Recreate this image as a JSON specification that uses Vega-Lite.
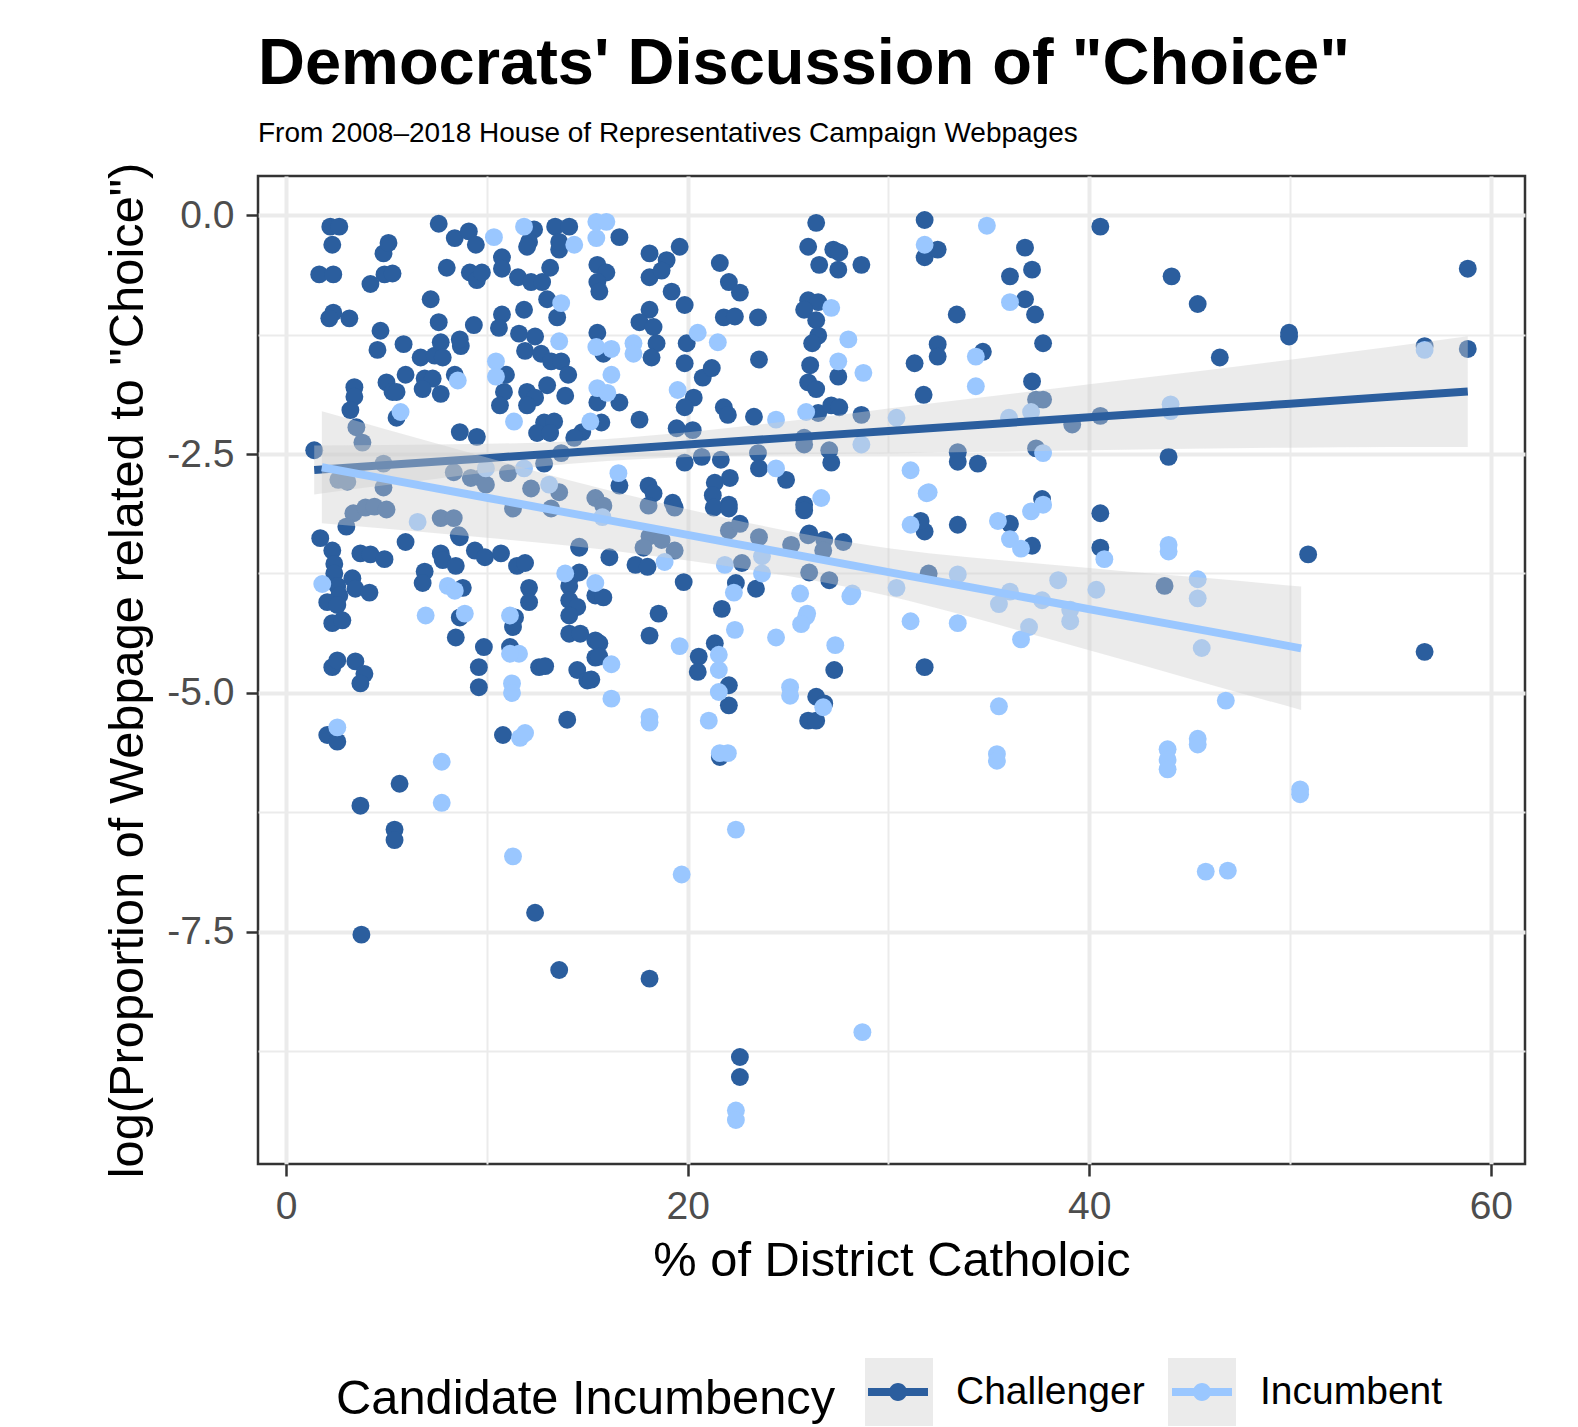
{
"$schema": "https://vega.github.io/schema/vega-lite/v6.json",
"width": 1267, "height": 988,
"autosize": {"type": "none"},
"padding": {"left": 258, "top": 176, "right": 53, "bottom": 263},
"title": {"text": "Democrats' Discussion of \"Choice\"", "subtitle": "From 2008–2018 House of Representatives Campaign Webpages", "anchor": "start", "frame": "group", "fontSize": 65, "fontWeight": "bold", "color": "black", "subtitleFontSize": 28, "subtitleColor": "black", "subtitlePadding": 22, "offset": 13, "font": "Liberation Sans", "subtitleFont": "Liberation Sans"},
"config": {
 "font": "Liberation Sans",
 "view": {"stroke": "#333333", "strokeWidth": 2.5},
 "axis": {"domain": false, "labelFontSize": 39, "labelColor": "#4D4D4D", "tickColor": "#333333", "tickWidth": 2.5, "tickSize": 12, "gridColor": "#EBEBEB", "titleFontSize": 48.8, "titleFontWeight": "normal", "titleColor": "black", "labelPadding": 12, "labelFlush": false, "labelOverlap": false},
 "axisX": {"titlePadding": 10, "labelPadding": 11},
 "axisY": {"titlePadding": 14},
 "legend": {"orient": "none", "legendY": 1182, "direction": "horizontal", "titleOrient": "left", "titleFontSize": 48.8, "titleFontWeight": "normal", "titleColor": "black", "titlePadding": 28, "titleLimit": 0, "labelLimit": 0, "labelFontSize": 39, "labelColor": "black", "symbolSize": 4624, "symbolStrokeWidth": 0}
},
"datasets": {
 "chal": [
{"x":2.2,"y":-0.12},{"x":2.65,"y":-0.12},{"x":2.3,"y":-0.31},{"x":1.65,"y":-0.62},{"x":2.35,"y":-0.62},{"x":4.2,"y":-0.72},{"x":4.85,"y":-0.4},{"x":5.1,"y":-0.29},{"x":4.9,"y":-0.62},{"x":5.3,"y":-0.61},{"x":7.6,"y":-0.09},{"x":8.4,"y":-0.24},{"x":9.1,"y":-0.17},{"x":9.45,"y":-0.31},{"x":8.0,"y":-0.55},{"x":9.15,"y":-0.6},{"x":9.5,"y":-0.68},{"x":9.75,"y":-0.6},{"x":10.75,"y":-0.44},{"x":10.75,"y":-0.56},{"x":11.55,"y":-0.65},{"x":12.2,"y":-0.7},{"x":12.75,"y":-0.7},{"x":13.15,"y":-0.55},{"x":12.35,"y":-0.15},{"x":12.1,"y":-0.28},{"x":12.0,"y":-0.33},{"x":13.4,"y":-0.12},{"x":14.1,"y":-0.12},{"x":13.6,"y":-0.36},{"x":13.6,"y":-0.28},
{"x":2.35,"y":-1.02},{"x":3.15,"y":-1.08},{"x":2.15,"y":-1.08},{"x":7.2,"y":-0.88},{"x":4.7,"y":-1.21},{"x":4.55,"y":-1.41},{"x":5.85,"y":-1.35},{"x":6.7,"y":-1.49},{"x":7.4,"y":-1.47},{"x":7.7,"y":-1.33},{"x":7.8,"y":-1.49},{"x":8.7,"y":-1.37},{"x":8.65,"y":-1.3},{"x":7.6,"y":-1.12},{"x":9.35,"y":-1.15},{"x":5.95,"y":-1.67},{"x":5.0,"y":-1.75},{"x":5.3,"y":-1.85},{"x":5.5,"y":-1.85},{"x":6.9,"y":-1.71},{"x":7.3,"y":-1.71},{"x":6.8,"y":-1.82},{"x":7.7,"y":-1.87},{"x":8.4,"y":-1.67},{"x":3.4,"y":-1.8},{"x":3.4,"y":-1.9},{"x":3.2,"y":-2.04},{"x":5.5,"y":-2.12},{"x":10.75,"y":-1.04},{"x":10.6,"y":-1.18},{"x":11.85,"y":-0.99},{"x":13.0,"y":-0.88},{"x":11.6,"y":-1.24},{"x":12.4,"y":-1.27},{"x":11.9,"y":-1.42},{"x":12.7,"y":-1.45},{"x":13.2,"y":-1.53},{"x":13.7,"y":-1.53},{"x":14.05,"y":-1.67},{"x":13.5,"y":-1.07},{"x":10.95,"y":-1.67},{"x":10.85,"y":-1.85},{"x":10.65,"y":-1.99},{"x":12.0,"y":-1.85},{"x":12.4,"y":-1.91},{"x":12.0,"y":-1.99},{"x":13.0,"y":-1.78},{"x":13.9,"y":-1.89},{"x":12.85,"y":-2.17},{"x":13.35,"y":-2.16},{"x":12.5,"y":-2.28},{"x":13.15,"y":-2.28},{"x":14.75,"y":-2.27},{"x":14.35,"y":-2.33},{"x":8.65,"y":-2.27},{"x":9.5,"y":-2.32},
{"x":3.5,"y":-2.22},{"x":3.8,"y":-2.38},{"x":1.4,"y":-2.46},{"x":2.6,"y":-2.77},{"x":3.05,"y":-2.79},{"x":4.85,"y":-2.6},{"x":4.85,"y":-2.85},{"x":3.35,"y":-3.12},{"x":3.95,"y":-3.06},{"x":4.4,"y":-3.05},{"x":5.0,"y":-3.08},{"x":3.0,"y":-3.26},{"x":7.7,"y":-3.17},{"x":8.35,"y":-3.17},{"x":8.6,"y":-3.35},{"x":8.35,"y":-2.69},{"x":9.2,"y":-2.75},{"x":9.7,"y":-2.75},{"x":9.95,"y":-2.82},{"x":11.05,"y":-2.7},{"x":12.2,"y":-2.86},{"x":13.6,"y":-2.9},{"x":11.3,"y":-3.07},{"x":13.2,"y":-3.07},{"x":12.85,"y":-2.6},{"x":13.7,"y":-2.49},
{"x":1.7,"y":-3.38},{"x":2.3,"y":-3.51},{"x":2.4,"y":-3.65},{"x":2.4,"y":-3.75},{"x":2.55,"y":-3.88},{"x":2.65,"y":-3.98},{"x":2.05,"y":-4.05},{"x":2.55,"y":-4.08},{"x":2.3,"y":-4.27},{"x":2.8,"y":-4.24},{"x":3.3,"y":-3.8},{"x":3.45,"y":-3.91},{"x":4.15,"y":-3.95},{"x":3.7,"y":-3.54},{"x":4.2,"y":-3.55},{"x":4.9,"y":-3.6},{"x":5.95,"y":-3.42},{"x":6.9,"y":-3.73},{"x":6.8,"y":-3.85},{"x":7.7,"y":-3.54},{"x":7.8,"y":-3.61},{"x":8.45,"y":-3.67},{"x":8.8,"y":-3.9},{"x":8.65,"y":-3.37},{"x":9.4,"y":-3.51},{"x":9.9,"y":-3.58},{"x":10.7,"y":-3.54},{"x":11.5,"y":-3.67},{"x":11.9,"y":-3.64},{"x":8.65,"y":-4.21},{"x":8.45,"y":-4.42},{"x":9.85,"y":-4.52},{"x":9.6,"y":-4.73},{"x":9.6,"y":-4.94},{"x":12.1,"y":-3.9},{"x":12.1,"y":-4.05},{"x":11.4,"y":-4.21},{"x":11.3,"y":-4.31},{"x":11.15,"y":-4.52},{"x":12.6,"y":-4.73},{"x":12.9,"y":-4.72},{"x":14.15,"y":-3.79},{"x":14.6,"y":-3.74},{"x":14.1,"y":-3.88},{"x":14.1,"y":-4.03},{"x":14.5,"y":-4.1},{"x":14.1,"y":-4.19},{"x":14.1,"y":-4.38},{"x":14.65,"y":-4.38},{"x":14.6,"y":-3.48},{"x":15.4,"y":-3.98},{"x":15.4,"y":-4.45},{"x":15.4,"y":-4.63},{"x":14.5,"y":-4.76},{"x":15.0,"y":-4.87},{"x":2.05,"y":-5.44},{"x":2.55,"y":-5.51},{"x":10.8,"y":-5.44},{"x":14.0,"y":-5.28},{"x":5.65,"y":-5.95},{"x":3.7,"y":-6.18},{"x":5.4,"y":-6.43},{"x":5.4,"y":-6.54},{"x":2.3,"y":-4.73},{"x":2.55,"y":-4.66},{"x":3.45,"y":-4.67},{"x":3.9,"y":-4.8},{"x":3.7,"y":-4.9},
{"x":12.4,"y":-7.3},{"x":3.75,"y":-7.53},{"x":13.6,"y":-7.9},{"x":18.1,"y":-7.99},{"x":22.6,"y":-8.81},{"x":22.6,"y":-9.02},
{"x":16.6,"y":-0.23},{"x":15.5,"y":-0.52},{"x":15.95,"y":-0.6},{"x":15.5,"y":-0.7},{"x":15.6,"y":-0.8},{"x":18.1,"y":-0.4},{"x":18.95,"y":-0.47},{"x":18.1,"y":-0.65},{"x":18.7,"y":-0.58},{"x":19.6,"y":-0.33},{"x":19.2,"y":-0.8},{"x":19.85,"y":-0.94},{"x":18.1,"y":-0.99},{"x":17.6,"y":-1.12},{"x":18.3,"y":-1.17},{"x":18.45,"y":-1.34},{"x":18.2,"y":-1.49},{"x":15.5,"y":-1.23},{"x":15.8,"y":-1.45},{"x":16.6,"y":-1.96},{"x":15.5,"y":-1.96},{"x":15.7,"y":-2.17},{"x":17.6,"y":-2.14},{"x":19.95,"y":-1.34},{"x":19.85,"y":-1.55},{"x":20.75,"y":-1.7},{"x":21.2,"y":-1.6},{"x":20.3,"y":-1.91},{"x":19.85,"y":-2.01},{"x":19.45,"y":-2.23},{"x":20.25,"y":-2.25},{"x":21.6,"y":-0.5},{"x":22.05,"y":-0.7},{"x":22.6,"y":-0.81},{"x":21.8,"y":-1.07},{"x":22.35,"y":-1.06},{"x":23.5,"y":-1.07},{"x":23.55,"y":-1.51},{"x":21.8,"y":-2.01},{"x":22.0,"y":-2.09},{"x":23.3,"y":-2.11},{"x":26.4,"y":-0.08},{"x":26.0,"y":-0.33},{"x":27.25,"y":-0.36},{"x":27.55,"y":-0.39},{"x":26.55,"y":-0.52},{"x":27.5,"y":-0.57},{"x":28.65,"y":-0.52},{"x":26.0,"y":-0.89},{"x":26.5,"y":-0.91},{"x":25.8,"y":-0.99},{"x":26.4,"y":-1.1},{"x":26.5,"y":-1.26},{"x":26.2,"y":-1.34},{"x":26.1,"y":-1.57},{"x":26.0,"y":-1.75},{"x":26.4,"y":-1.82},{"x":27.5,"y":-1.69},{"x":26.5,"y":-2.07},{"x":27.15,"y":-1.99},{"x":27.55,"y":-2.01},{"x":28.65,"y":-2.09},{"x":31.8,"y":-0.05},{"x":31.8,"y":-0.44},{"x":32.45,"y":-0.36},{"x":31.3,"y":-1.55},{"x":31.75,"y":-1.88},{"x":25.8,"y":-2.33},{"x":25.8,"y":-2.4},{"x":27.05,"y":-2.46},{"x":27.15,"y":-2.59},{"x":18.05,"y":-2.83},{"x":18.3,"y":-2.91},{"x":18.05,"y":-3.04},{"x":16.6,"y":-2.83},{"x":19.85,"y":-2.59},{"x":20.7,"y":-2.53},{"x":21.65,"y":-2.56},{"x":22.1,"y":-2.75},{"x":21.35,"y":-2.8},{"x":21.25,"y":-2.93},{"x":23.5,"y":-2.49},{"x":23.55,"y":-2.65},{"x":24.9,"y":-2.77},{"x":19.25,"y":-3.01},{"x":22.05,"y":-3.03},{"x":25.8,"y":-3.03},
{"x":14.6,"y":-3.47},{"x":16.1,"y":-3.58},{"x":15.4,"y":-2.96},{"x":15.8,"y":-3.04},{"x":19.35,"y":-3.06},{"x":18.1,"y":-3.36},{"x":18.7,"y":-3.4},{"x":17.8,"y":-3.48},{"x":19.35,"y":-3.51},{"x":17.4,"y":-3.66},{"x":18.0,"y":-3.68},{"x":19.8,"y":-3.84},{"x":21.3,"y":-3.06},{"x":22.05,"y":-3.07},{"x":22.05,"y":-3.3},{"x":22.6,"y":-3.23},{"x":22.7,"y":-3.64},{"x":23.55,"y":-3.37},{"x":22.4,"y":-3.85},{"x":23.4,"y":-3.91},{"x":21.7,"y":-4.12},{"x":25.8,"y":-3.09},{"x":25.15,"y":-3.45},{"x":26.0,"y":-3.35},{"x":26.8,"y":-3.4},{"x":27.75,"y":-3.42},{"x":26.75,"y":-3.51},{"x":26.05,"y":-3.74},{"x":27.05,"y":-3.82},{"x":15.8,"y":-4.0},{"x":18.55,"y":-4.17},{"x":18.1,"y":-4.4},{"x":15.6,"y":-4.48},{"x":15.6,"y":-4.62},{"x":15.2,"y":-4.86},{"x":21.35,"y":-4.48},{"x":20.55,"y":-4.62},{"x":20.5,"y":-4.78},{"x":22.05,"y":-4.92},{"x":22.05,"y":-5.13},{"x":21.6,"y":-5.67},{"x":26.4,"y":-5.04},{"x":26.8,"y":-5.11},{"x":26.0,"y":-5.29},{"x":26.4,"y":-5.29},{"x":27.3,"y":-4.76},{"x":31.8,"y":-3.31},{"x":31.8,"y":-4.73},{"x":26.05,"y":-3.33},
{"x":40.55,"y":-0.12},{"x":36.8,"y":-0.34},{"x":36.05,"y":-0.64},{"x":37.15,"y":-0.57},{"x":36.8,"y":-0.88},{"x":37.3,"y":-1.04},{"x":33.4,"y":-1.04},{"x":44.1,"y":-0.64},{"x":45.4,"y":-0.93},{"x":58.85,"y":-0.56},{"x":49.95,"y":-1.23},{"x":49.95,"y":-1.27},{"x":46.5,"y":-1.49},{"x":56.7,"y":-1.37},{"x":58.85,"y":-1.4},{"x":32.45,"y":-1.35},{"x":32.45,"y":-1.48},{"x":34.7,"y":-1.43},{"x":37.7,"y":-1.34},{"x":37.15,"y":-1.74},{"x":37.35,"y":-1.93},{"x":37.7,"y":-1.93},{"x":39.15,"y":-2.19},{"x":40.55,"y":-2.1},{"x":33.45,"y":-2.48},{"x":33.45,"y":-2.58},{"x":34.45,"y":-2.6},{"x":37.35,"y":-2.44},{"x":43.95,"y":-2.53},{"x":31.6,"y":-3.2},{"x":33.45,"y":-3.24},{"x":36.05,"y":-3.23},{"x":37.65,"y":-2.97},{"x":37.15,"y":-3.46},{"x":40.55,"y":-3.12},{"x":40.55,"y":-3.48},{"x":32.0,"y":-3.75},{"x":43.75,"y":-3.88},{"x":56.7,"y":-4.57},{"x":50.9,"y":-3.55}
 ],
 "inc": [
{"x":10.35,"y":-0.23},{"x":11.85,"y":-0.12},{"x":14.35,"y":-0.31},{"x":15.45,"y":-0.07},{"x":15.95,"y":-0.07},{"x":15.45,"y":-0.24},{"x":8.55,"y":-1.73},{"x":5.7,"y":-2.06},{"x":13.7,"y":-0.92},{"x":13.6,"y":-1.32},{"x":10.45,"y":-1.53},{"x":10.45,"y":-1.69},{"x":11.35,"y":-2.16},{"x":15.45,"y":-1.38},{"x":16.2,"y":-1.4},{"x":15.5,"y":-1.81},{"x":15.15,"y":-2.16},
{"x":9.95,"y":-2.65},{"x":11.85,"y":-2.65},{"x":13.1,"y":-2.82},{"x":6.55,"y":-3.21},
{"x":1.8,"y":-3.86},{"x":8.05,"y":-3.88},{"x":8.4,"y":-3.93},{"x":6.95,"y":-4.19},{"x":8.9,"y":-4.17},{"x":11.15,"y":-4.19},{"x":11.6,"y":-4.59},{"x":11.15,"y":-4.59},{"x":11.25,"y":-4.9},{"x":11.25,"y":-5.0},{"x":13.9,"y":-3.75},{"x":15.4,"y":-3.85},{"x":2.55,"y":-5.36},{"x":11.65,"y":-5.47},{"x":11.9,"y":-5.42},{"x":7.75,"y":-5.72},{"x":7.75,"y":-6.15},{"x":11.3,"y":-6.71},{"x":19.7,"y":-6.9},{"x":22.4,"y":-6.43},{"x":28.7,"y":-8.55},{"x":22.4,"y":-9.37},{"x":22.4,"y":-9.47},{"x":45.8,"y":-6.87},{"x":46.9,"y":-6.86},
{"x":16.2,"y":-1.67},{"x":16.0,"y":-1.86},{"x":17.3,"y":-1.34},{"x":17.3,"y":-1.45},{"x":20.5,"y":-1.23},{"x":21.5,"y":-1.33},{"x":19.5,"y":-1.83},{"x":24.4,"y":-2.14},{"x":27.15,"y":-0.97},{"x":28.0,"y":-1.3},{"x":27.5,"y":-1.53},{"x":28.75,"y":-1.65},{"x":25.9,"y":-2.06},{"x":30.4,"y":-2.12},{"x":31.8,"y":-0.31},{"x":28.65,"y":-2.4},{"x":16.55,"y":-2.7},{"x":24.4,"y":-2.65},{"x":26.65,"y":-2.96},{"x":31.1,"y":-2.67},{"x":31.9,"y":-2.91},
{"x":15.75,"y":-3.16},{"x":18.85,"y":-3.63},{"x":21.85,"y":-3.66},{"x":23.7,"y":-3.57},{"x":23.7,"y":-3.75},{"x":22.3,"y":-3.95},{"x":25.6,"y":-3.96},{"x":28.2,"y":-3.96},{"x":25.95,"y":-4.17},{"x":30.4,"y":-3.9},{"x":19.6,"y":-4.51},{"x":16.2,"y":-4.7},{"x":16.2,"y":-5.06},{"x":18.1,"y":-5.25},{"x":18.1,"y":-5.31},{"x":22.35,"y":-4.34},{"x":24.4,"y":-4.42},{"x":21.55,"y":-4.6},{"x":21.55,"y":-4.76},{"x":21.55,"y":-4.99},{"x":21.05,"y":-5.29},{"x":21.6,"y":-5.63},{"x":22.0,"y":-5.63},{"x":25.1,"y":-4.94},{"x":25.1,"y":-5.03},{"x":26.75,"y":-5.15},{"x":27.35,"y":-4.5},{"x":25.9,"y":-4.2},{"x":25.65,"y":-4.28},{"x":28.1,"y":-3.99},{"x":31.1,"y":-3.24},{"x":31.1,"y":-4.25},
{"x":34.9,"y":-0.11},{"x":36.05,"y":-0.91},{"x":56.7,"y":-1.41},{"x":34.35,"y":-1.48},{"x":34.35,"y":-1.79},{"x":37.1,"y":-2.06},{"x":36.0,"y":-2.12},{"x":44.05,"y":-2.05},{"x":44.05,"y":-1.98},{"x":37.7,"y":-2.49},{"x":32.0,"y":-2.9},{"x":35.45,"y":-3.2},{"x":36.05,"y":-3.39},{"x":36.6,"y":-3.49},{"x":37.1,"y":-3.1},{"x":37.7,"y":-3.03},{"x":40.75,"y":-3.6},{"x":43.95,"y":-3.45},{"x":43.95,"y":-3.52},{"x":33.45,"y":-3.76},{"x":36.05,"y":-3.94},{"x":35.5,"y":-4.07},{"x":37.65,"y":-4.03},{"x":37.0,"y":-4.31},{"x":36.6,"y":-4.44},{"x":38.45,"y":-3.82},{"x":39.05,"y":-4.13},{"x":39.05,"y":-4.25},{"x":40.35,"y":-3.92},{"x":33.45,"y":-4.27},{"x":45.4,"y":-3.81},{"x":45.4,"y":-4.01},{"x":45.6,"y":-4.53},{"x":35.5,"y":-5.14},{"x":46.8,"y":-5.08},{"x":35.4,"y":-5.64},{"x":35.4,"y":-5.71},{"x":43.9,"y":-5.59},{"x":43.9,"y":-5.7},{"x":43.9,"y":-5.8},{"x":45.4,"y":-5.48},{"x":45.4,"y":-5.54},{"x":50.5,"y":-6.01},{"x":50.5,"y":-6.06}
 ],
 "bandC": [
{"x":1.4,"fit":-2.666,"lo":-2.922,"hi":-2.41},{"x":5,"fit":-2.615,"lo":-2.825,"hi":-2.405},{"x":10,"fit":-2.543,"lo":-2.693,"hi":-2.393},{"x":14,"fit":-2.486,"lo":-2.604,"hi":-2.368},{"x":18,"fit":-2.429,"lo":-2.549,"hi":-2.309},{"x":22,"fit":-2.372,"lo":-2.517,"hi":-2.227},{"x":26,"fit":-2.315,"lo":-2.5,"hi":-2.13},{"x":30,"fit":-2.258,"lo":-2.493,"hi":-2.023},{"x":35,"fit":-2.187,"lo":-2.477,"hi":-1.897},{"x":40,"fit":-2.115,"lo":-2.46,"hi":-1.77},{"x":45,"fit":-2.044,"lo":-2.444,"hi":-1.644},{"x":50,"fit":-1.973,"lo":-2.433,"hi":-1.513},{"x":55,"fit":-1.901,"lo":-2.426,"hi":-1.376},{"x":58.85,"fit":-1.846,"lo":-2.426,"hi":-1.266}
 ],
 "bandI": [
{"x":1.78,"fit":-2.638,"lo":-3.223,"hi":-2.053},{"x":5,"fit":-2.763,"lo":-3.283,"hi":-2.243},{"x":10,"fit":-2.957,"lo":-3.377,"hi":-2.537},{"x":14,"fit":-3.113,"lo":-3.458,"hi":-2.768},{"x":18,"fit":-3.268,"lo":-3.558,"hi":-2.978},{"x":22,"fit":-3.424,"lo":-3.674,"hi":-3.174},{"x":26,"fit":-3.579,"lo":-3.814,"hi":-3.344},{"x":30,"fit":-3.735,"lo":-3.985,"hi":-3.485},{"x":34,"fit":-3.89,"lo":-4.2,"hi":-3.58},{"x":38,"fit":-4.046,"lo":-4.436,"hi":-3.656},{"x":42,"fit":-4.201,"lo":-4.671,"hi":-3.731},{"x":46,"fit":-4.356,"lo":-4.911,"hi":-3.801},{"x":50.55,"fit":-4.533,"lo":-5.179,"hi":-3.887}
 ]
},
"layer": [
 {"data": {"name": "chal"},
  "mark": {"type": "point", "filled": true, "shape": "circle", "size": 320, "opacity": 1},
  "encoding": {
   "x": {"field": "x", "type": "quantitative", "title": "% of District Catholoic", "scale": {"domain": [-1.4, 61.7], "nice": false, "zero": false},
     "axis": {"values": [0, 10, 20, 30, 40, 50, 60], "format": "d", "labelExpr": "datum.value % 20 === 0 ? datum.label : ''", "tickOpacity": {"condition": {"test": "datum.value % 20 !== 0", "value": 0}, "value": 1}, "gridWidth": {"condition": {"test": "datum.value % 20 !== 0", "value": 2}, "value": 4}}},
   "y": {"field": "y", "type": "quantitative", "title": "log(Proportion of Webpage related to \"Choice\")", "scale": {"domain": [-9.93, 0.41], "nice": false, "zero": false},
     "axis": {"values": [0, -1.25, -2.5, -3.75, -5, -6.25, -7.5, -8.75], "labelExpr": "datum.value % 2.5 !== 0 ? '' : replace(format(datum.value, '.1f'), '−', '-')", "tickOpacity": {"condition": {"test": "datum.value % 2.5 !== 0", "value": 0}, "value": 1}, "gridWidth": {"condition": {"test": "datum.value % 2.5 !== 0", "value": 2}, "value": 4}}},
   "color": {"datum": "Challenger", "type": "nominal", "title": "Candidate Incumbency", "scale": {"domain": ["Challenger", "Incumbent"], "range": ["#2B5E9E", "#9AC7FF"]},
     "legend": {"zindex": 2, "legendX": 78, "titleBaseline": "line-top", "titleLineHeight": 30, "labelOffset": 24, "columnPadding": 23, "symbolOpacity": 1, "symbolType": "M-0.882,-0.118L0.882,-0.118L0.882,0.118L-0.882,0.118Z M0.265,0 A0.265,0.265 0 1 1 -0.265,0 A0.265,0.265 0 1 1 0.265,0 Z"}}
  }},
 {"data": {"name": "inc"},
  "mark": {"type": "point", "filled": true, "shape": "circle", "size": 320, "opacity": 1},
  "encoding": {
   "x": {"field": "x", "type": "quantitative", "title": "% of District Catholoic"},
   "y": {"field": "y", "type": "quantitative", "title": "log(Proportion of Webpage related to \"Choice\")"},
   "color": {"datum": "Incumbent", "type": "nominal", "title": "Candidate Incumbency"}
  }},
 {"data": {"name": "bandC"},
  "mark": {"type": "area", "opacity": 0.41, "interpolate": "monotone"},
  "encoding": {
   "x": {"field": "x", "type": "quantitative", "title": "% of District Catholoic"},
   "y": {"field": "lo", "type": "quantitative", "title": "log(Proportion of Webpage related to \"Choice\")"},
   "y2": {"field": "hi"},
   "fill": {"datum": "C", "type": "nominal", "title": null, "scale": {"domain": ["C", "I"], "range": ["#CECECE", "#CECECE"]},
     "legend": {"zindex": 0, "title": null, "legendX": 607, "symbolType": "square", "symbolOpacity": 0.41, "labelExpr": "''", "labelOffset": 0, "columnPadding": 235}}
  }},
 {"data": {"name": "bandC"},
  "mark": {"type": "line", "strokeWidth": 8},
  "encoding": {
   "x": {"field": "x", "type": "quantitative", "title": "% of District Catholoic"},
   "y": {"field": "fit", "type": "quantitative", "title": "log(Proportion of Webpage related to \"Choice\")"},
   "color": {"datum": "Challenger", "type": "nominal", "title": "Candidate Incumbency"}
  }},
 {"data": {"name": "bandI"},
  "mark": {"type": "area", "opacity": 0.41, "interpolate": "monotone"},
  "encoding": {
   "x": {"field": "x", "type": "quantitative", "title": "% of District Catholoic"},
   "y": {"field": "lo", "type": "quantitative", "title": "log(Proportion of Webpage related to \"Choice\")"},
   "y2": {"field": "hi"},
   "fill": {"datum": "I", "type": "nominal", "title": null}
  }},
 {"data": {"name": "bandI"},
  "mark": {"type": "line", "strokeWidth": 8},
  "encoding": {
   "x": {"field": "x", "type": "quantitative", "title": "% of District Catholoic"},
   "y": {"field": "fit", "type": "quantitative", "title": "log(Proportion of Webpage related to \"Choice\")"},
   "color": {"datum": "Incumbent", "type": "nominal", "title": "Candidate Incumbency"}
  }}
]
}
